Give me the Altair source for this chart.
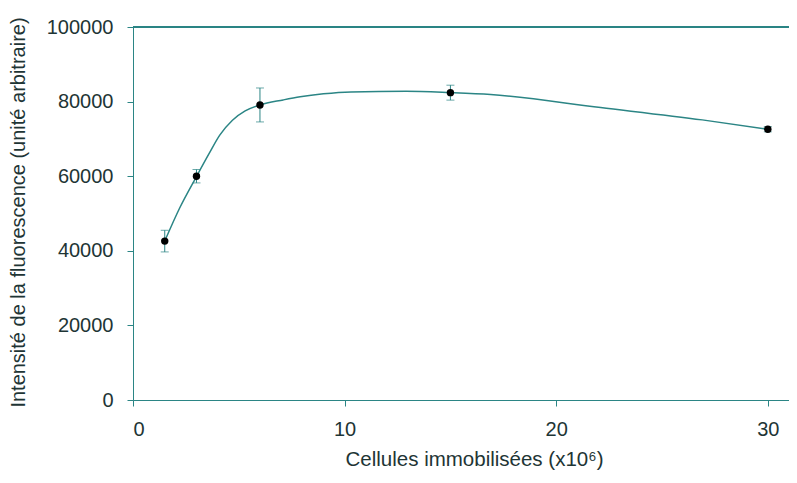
import altair as alt
import pandas as pd

# measured points
cells = [1.5, 3, 6, 15, 30]
intensity = [42600, 60000, 79100, 82400, 72600]
err = [2900, 1800, 4550, 2000, 700]

# fitted curve
curve_x = [1.5, 2.2, 3, 3.6, 4.1, 4.7, 5.3, 6, 7.1, 7.9, 9, 10.3, 12.9, 15, 16.9,
           22.1, 26.9, 30]
curve_y = [42600, 51400, 59900, 66100, 71000, 75000, 77500, 79100, 80450, 81300,
           82100, 82600, 82750, 82400, 81900, 78400, 75100, 72600]

y_ticks = [0, 20000, 40000, 60000, 80000, 100000]
x_ticks = [0, 10, 20, 30]

pts = pd.DataFrame({"x": cells, "y": intensity,
                    "lo": [v - e for v, e in zip(intensity, err)],
                    "hi": [v + e for v, e in zip(intensity, err)]})
cur = pd.DataFrame({"x": curve_x, "y": curve_y})

TEAL = "#2b8585"
TXT = "#1e3535"
FONT = "Liberation Sans"

xscale = alt.Scale(domain=[0, 31.0], nice=False, zero=False)
yscale = alt.Scale(domain=[0, 100000], nice=False)

xax = alt.Axis(values=x_ticks, grid=False, domainColor=TEAL, tickColor=TEAL,
               tickSize=6, labelPadding=13, labelFontSize=20, labelColor=TXT,
               labelFont=FONT, title="Cellules immobilisées (x10⁶)",
               titleFont=FONT, titleFontSize=20.5, titleFontWeight="normal",
               titleColor=TXT, titleX=341, titleY=65, titleBaseline="alphabetic",
               titleAlign="center", format="d")
yax = alt.Axis(values=y_ticks, grid=False, domainColor=TEAL, tickColor=TEAL,
               tickSize=6, labelPadding=14, labelFontSize=20, labelColor=TXT,
               labelFont=FONT, title="Intensité de la fluorescence (unité arbitraire)",
               titleFont=FONT, titleFontSize=20, titleFontWeight="normal",
               titleColor=TXT, titleX=-115, titleY=185, titleAlign="center",
               titleBaseline="middle", titleAngle=-90, format="d")

line = alt.Chart(cur).mark_line(interpolate="monotone", color=TEAL, strokeWidth=1.5).encode(
    x=alt.X("x:Q", scale=xscale, axis=xax),
    y=alt.Y("y:Q", scale=yscale, axis=yax),
)

top = alt.Chart(pts).mark_rule(color=TEAL, strokeWidth=1.5).encode(
    y=alt.datum(100000),
)

bars = alt.Chart(pts).mark_rule(color=TEAL, strokeWidth=1).encode(
    x="x:Q", y="lo:Q", y2="hi:Q")
cap_lo = alt.Chart(pts).mark_tick(orient="horizontal", color=TEAL, size=8, thickness=1).encode(
    x="x:Q", y="lo:Q")
cap_hi = alt.Chart(pts).mark_tick(orient="horizontal", color=TEAL, size=8, thickness=1).encode(
    x="x:Q", y="hi:Q")
dots = alt.Chart(pts).mark_circle(color="black", size=55, opacity=1).encode(
    x="x:Q", y="y:Q")

chart = alt.layer(top, line, bars, cap_lo, cap_hi, dots).properties(
    width=656, height=373,
    autosize=alt.AutoSizeParams(type="none"),
    padding={"left": 125, "top": 19, "right": 0, "bottom": 70},
).configure_view(stroke=None).configure(background="white")

chart.save("out.html", embed_options={"renderer": "svg", "actions": False})
